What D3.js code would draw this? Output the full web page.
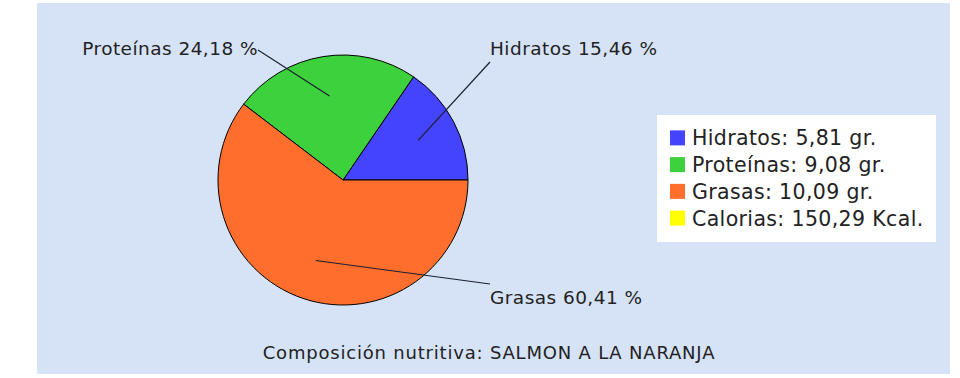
<!DOCTYPE html>
<html><head><meta charset="utf-8">
<script src="https://cdn.jsdelivr.net/npm/d3@7"></script>
<style>html,body{margin:0;padding:0;background:#fff;}svg{display:block;}</style>
</head><body>
<svg id="c" width="960" height="378"></svg>
<script>
const categories = ["Hidratos", "Proteínas", "Grasas"];
const percents = [15.46, 24.18, 60.41];
const grams = ["5,81", "9,08", "10,09"];
const legendLabels = ["Hidratos: 5,81 gr.", "Proteínas: 9,08 gr.", "Grasas: 10,09 gr.", "Calorias: 150,29 Kcal."];
const legendColors = ["#4444ff", "#3dd13d", "#ff6e2c", "#ffff00"];
const sliceColors = ["#4444ff", "#3dd13d", "#ff6e2c"];
const title = "Composición nutritiva: SALMON A LA NARANJA";

const svg = d3.select("#c");
const FONT = "'DejaVu Sans', Verdana, sans-serif";
svg.append("rect").attr("x", 37).attr("y", 3).attr("width", 913).attr("height", 371).attr("fill", "#d6e3f7");

const cx = 343, cy = 180, r = 125;
const g = svg.append("g").attr("transform", `translate(${cx},${cy})`);
const pie = d3.pie().sort(null).startAngle(Math.PI / 2).endAngle(Math.PI / 2 - 2 * Math.PI);
const arcs = pie(percents);
const arc = d3.arc().innerRadius(0).outerRadius(r);
g.selectAll("path.s").data(arcs).join("path").attr("class", "s")
  .attr("d", arc).attr("fill", (d, i) => sliceColors[i])
  .attr("stroke", "#000").attr("stroke-width", 1);

const fmt = v => v.toFixed(2).replace(".", ",") + " %";
// label anchors (layout)
const labelPos = [
  {lx: 490, ly: 62, tx: 490, ty: 55, anchor: "start"},
  {lx: 258, ly: 50, tx: 258, ty: 55, anchor: "end"},
  {lx: 490, ly: 284, tx: 490, ty: 304, anchor: "start"}
];
const inner = d3.arc().innerRadius(r * 0.68).outerRadius(r * 0.68);
arcs.forEach((d, i) => {
  const [px, py] = inner.centroid(d);
  const p = labelPos[i];
  svg.append("line").attr("x1", cx + px).attr("y1", cy + py).attr("x2", p.lx).attr("y2", p.ly)
    .attr("stroke", "#1a2030").attr("stroke-width", 1.2);
  svg.append("text").attr("x", p.tx).attr("y", p.ty).attr("text-anchor", p.anchor)
    .attr("font-family", FONT).attr("font-size", 18.5).attr("letter-spacing", 0.45).attr("fill", "#222")
    .text(categories[i] + " " + fmt(percents[i]));
});

// legend
const lg = svg.append("g");
lg.append("rect").attr("x", 657).attr("y", 115).attr("width", 279).attr("height", 127).attr("fill", "#fff");
const ly = d3.scaleBand().domain(d3.range(legendLabels.length)).range([125, 232]);
legendLabels.forEach((t, i) => {
  const y = ly(i) + ly.bandwidth() / 2;
  lg.append("rect").attr("x", 670).attr("y", y - 8).attr("width", 15).attr("height", 15).attr("fill", legendColors[i]);
  lg.append("text").attr("x", 692).attr("y", y + 7).attr("font-family", FONT).attr("font-size", 20.5)
    .attr("letter-spacing", 0.36).attr("fill", "#222").text(t);
});

svg.append("text").attr("x", 489).attr("y", 359).attr("text-anchor", "middle")
  .attr("font-family", FONT).attr("font-size", 18).attr("letter-spacing", 0.8).attr("fill", "#222").text(title);
</script>
</body></html>
